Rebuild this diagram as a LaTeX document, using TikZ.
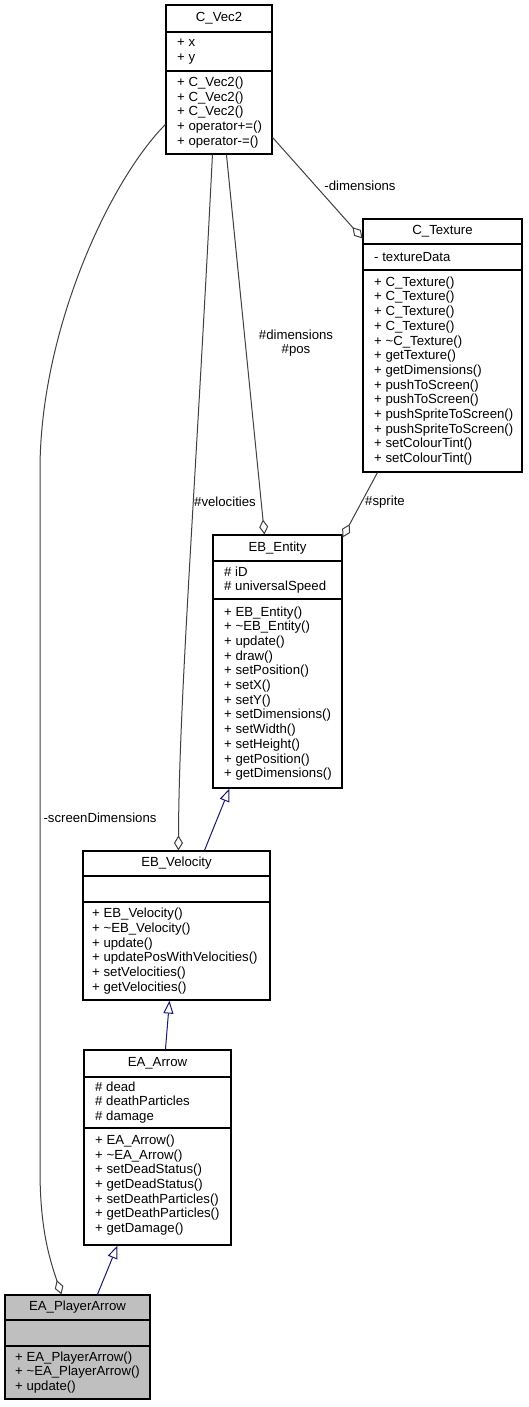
\documentclass[tikz,border=0pt]{standalone}
\usepackage{fontspec}
\setmainfont{Liberation Sans}
\usetikzlibrary{arrows.meta}
\definecolor{gtwentyfive}{HTML}{404040}
\definecolor{mblue}{HTML}{191970}
\definecolor{hlgray}{HTML}{BFBFBF}
\newcommand{\memfont}{\fontsize{13.2}{14.7}\selectfont}
\tikzset{
  cls/.style={draw=black, line width=1.1pt, inner sep=0pt},
  ttl/.style={inner sep=0pt, anchor=center, font=\memfont},
  mem/.style={inner sep=0pt, anchor=west, align=left, font=\memfont},
  lbl/.style={inner sep=0pt, align=center, font=\memfont},
  div/.style={draw=black, line width=1.1pt},
  agg/.style={draw=gtwentyfive, line width=1pt, -{Diamond[open, length=15pt, width=9pt, fill=white]}},
  inh/.style={draw=mblue, line width=1pt, -{Triangle[open, length=13pt, width=10pt, fill=white]}}
}
\begin{document}
\begin{tikzpicture}[x=1pt, y=-1pt, font=\memfont]
\useasboundingbox (0,0) rectangle (528,1407);

% C_Vec2 : 166..272, 5..154
\node[cls, fill=white, minimum width=106pt, minimum height=149pt] (cvec) at (219,79.5) {};
\draw[div] (166,32) -- (272,32);
\draw[div] (166,71) -- (272,71);
\node[ttl] (cvect) at (219,18.5) {C\_Vec2};
\node[mem] (cveca) at (177,51.5) {+ x\\+ y};
\node[mem] (cvecm) at (177,112.5) {+ C\_Vec2()\\+ C\_Vec2()\\+ C\_Vec2()\\+ operator+=()\\+ operator-=()};

% C_Texture : 363..522, 219..472
\node[cls, fill=white, minimum width=159pt, minimum height=253pt] (ctex) at (442.5,345.5) {};
\draw[div] (363,244) -- (522,244);
\draw[div] (363,270) -- (522,270);
\node[ttl] (ctext) at (442.5,231.5) {C\_Texture};
\node[mem] (ctexa) at (374,257) {- textureData};
\node[mem] (ctexm) at (374,371) {+ C\_Texture()\\+ C\_Texture()\\+ C\_Texture()\\+ C\_Texture()\\+ \textasciitilde C\_Texture()\\+ getTexture()\\+ getDimensions()\\+ pushToScreen()\\+ pushToScreen()\\+ pushSpriteToScreen()\\+ pushSpriteToScreen()\\+ setColourTint()\\+ setColourTint()};

% EB_Entity : 213..342, 535..788
\node[cls, fill=white, minimum width=129pt, minimum height=253pt] (entity) at (277.5,661.5) {};
\draw[div] (213,561) -- (342,561);
\draw[div] (213,599) -- (342,599);
\node[ttl] (entityt) at (277.5,548) {EB\_Entity};
\node[mem] (entitya) at (224,580) {\# iD\\\# universalSpeed};
\node[mem] (entitym) at (224,693.5) {+ EB\_Entity()\\+ \textasciitilde EB\_Entity()\\+ update()\\+ draw()\\+ setPosition()\\+ setX()\\+ setY()\\+ setDimensions()\\+ setWidth()\\+ setHeight()\\+ getPosition()\\+ getDimensions()};

% EB_Velocity : 83..270, 851..1000
\node[cls, fill=white, minimum width=187pt, minimum height=149pt] (evel) at (176.5,925.5) {};
\draw[div] (83,876) -- (270,876);
\draw[div] (83,902) -- (270,902);
\node[ttl] (evelt) at (176.5,863.5) {EB\_Velocity};
\node[mem] (evelm) at (92,951) {+ EB\_Velocity()\\+ \textasciitilde EB\_Velocity()\\+ update()\\+ updatePosWithVelocities()\\+ setVelocities()\\+ getVelocities()};

% EA_Arrow : 84..231, 1050..1245
\node[cls, fill=white, minimum width=147pt, minimum height=195pt] (arrow) at (157.5,1147.5) {};
\draw[div] (84,1077) -- (231,1077);
\draw[div] (84,1128) -- (231,1128);
\node[ttl] (arrowt) at (157.5,1063.5) {EA\_Arrow};
\node[mem] (arrowa) at (95,1102.5) {\# dead\\\# deathParticles\\\# damage};
\node[mem] (arrowm) at (95,1185) {+ EA\_Arrow()\\+ \textasciitilde EA\_Arrow()\\+ setDeadStatus()\\+ getDeadStatus()\\+ setDeathParticles()\\+ getDeathParticles()\\+ getDamage()};

% EA_PlayerArrow : 5..150, 1295..1399
\node[cls, fill=hlgray, minimum width=145pt, minimum height=104pt] (pa) at (77.5,1347) {};
\draw[div] (5,1320) -- (150,1320);
\draw[div] (5,1346) -- (150,1346);
\node[ttl] (pat) at (77.5,1307.5) {EA\_PlayerArrow};
\node[mem] (pam) at (15,1372.5) {+ EA\_PlayerArrow()\\+ \textasciitilde EA\_PlayerArrow()\\+ update()};

% aggregation connectors
\draw[agg] ([yshift=-120pt]cvec.north west) .. controls (110,180) and (40,330) .. (40,470) -- (40,1170) .. controls (40,1230) and (50,1260) .. ([xshift=57pt]pa.north west);
\draw[agg] ([xshift=47pt]cvec.south west) .. controls (195,500) and (179,700) .. ([xshift=96pt]evel.north west);
\draw[agg] ([xshift=61pt]cvec.south west) -- ([xshift=52pt]entity.north west);
\draw[agg] ([yshift=-133pt]cvec.north east) -- ([yshift=-20pt]ctex.north west);
\draw[agg] ([xshift=15pt]ctex.south west) -- ([yshift=-3pt]entity.north east);

% inheritance connectors
\draw[inh] ([xshift=122pt]evel.north west) -- ([xshift=17pt]entity.south west);
\draw[inh] ([xshift=82pt]arrow.north west) -- ([xshift=87pt]evel.south west);
\draw[inh] ([xshift=93pt]pa.north west) -- ([xshift=34pt]arrow.south west);

% labels
\node[lbl] (lscreen) at (100,818) {-screenDimensions};
\node[lbl] (lvel) at (225,502) {\#velocities};
\node[lbl] (ldimpos) at (296,343) {\#dimensions\\\#pos};
\node[lbl] (ldim) at (360,186) {-dimensions};
\node[lbl] (lsprite) at (385,502) {\#sprite};
\end{tikzpicture}
\end{document}
